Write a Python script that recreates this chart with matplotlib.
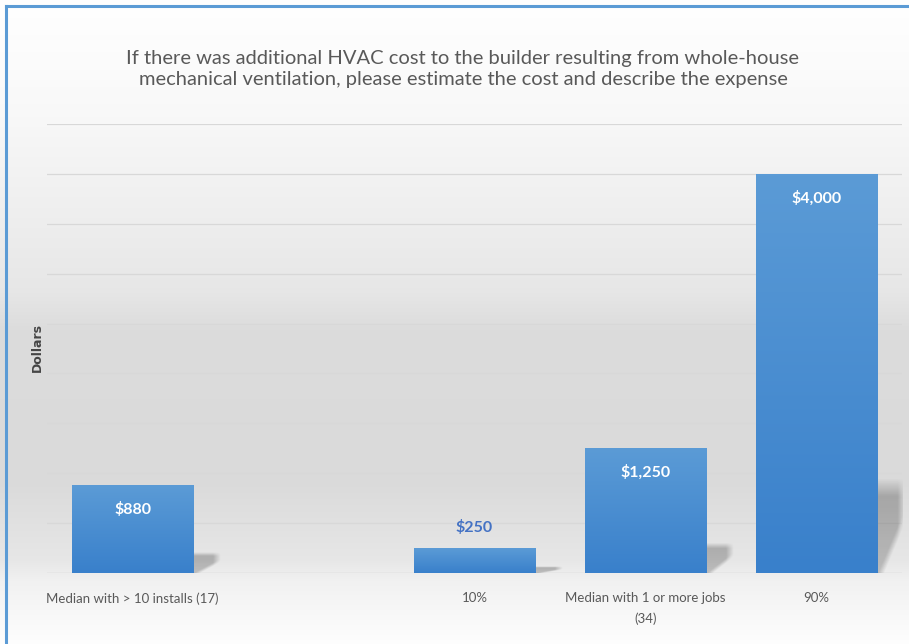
import matplotlib.pyplot as plt
import numpy as np
from matplotlib.colors import LinearSegmentedColormap
from matplotlib.lines import Line2D

plt.rcParams['font.family'] = ['Lato', 'DejaVu Sans']

# survey answers, in dollars ("" slot is an empty category in the sheet)
categories = ["Median with > 10 installs (17)", "", "10%",
              "Median with 1 or more jobs\n(34)", "90%"]
costs = [880, None, 250, 1250, 4000]
cost_labels = ["$880", "", "$250", "$1,250", "$4,000"]

TITLE = ("If there was additional HVAC cost to the builder resulting from whole-house\n"
         "mechanical ventilation, please estimate the cost and describe the expense")

W, H = 909, 644
fig = plt.figure(figsize=(W / 100, H / 100), dpi=100)

# ── page background: soft vertical gray gradient ───────────────────────────
bg = fig.add_axes([0, 0, 1, 1], zorder=-10)
bg.set_axis_off()
rows = np.arange(H)
stops_y = [0, 110, 290, 330, 480, 560, 580, 643]
stops_v = [1.0, 0.975, 0.905, 0.862, 0.855, 0.905, 0.945, 0.995]
shade = np.interp(rows, stops_y, stops_v)
img = np.repeat(shade[:, None], 4, axis=1)
bg.imshow(np.dstack([img, img, img]), extent=[0, 1, 0, 1], aspect="auto",
          origin="upper")
bg.set_xlim(0, 1)
bg.set_ylim(0, 1)

# blue frame along the top and left edges
fig.add_artist(Line2D([6 / W, 1], [1 - 6 / H, 1 - 6 / H], color="#5b9bd5", lw=2.2))
fig.add_artist(Line2D([6 / W, 6 / W], [0, 1 - 6 / H], color="#5b9bd5", lw=2.2))

# ── plot area ─────────────────────────────────────────────────────────────
ax = fig.add_axes([47 / W, 1 - 573 / H, (902 - 47) / W, (573 - 124) / H])
ax.patch.set_alpha(0)
for s in ax.spines.values():
    s.set_visible(False)
ax.set_yticks(np.arange(500, 4501, 500))
ax.set_yticklabels([])
ax.tick_params(axis="y", length=0)
ax.grid(axis="y", color="#d8d8d8", lw=0.9)
ax.set_axisbelow(True)
ax.axhline(0, color="#d0d0d0", lw=1.0, zorder=1)

x = np.arange(len(categories))
width = 0.71
vals = [v if v is not None else 0 for v in costs]

bar_cmap = LinearSegmentedColormap.from_list("barblue", ["#3980cb", "#5b9bd6"])

# soft shadow mask: u runs across (0..1), t runs up (0..1)
u, t = np.meshgrid(np.linspace(0, 1, 60), np.linspace(0, 1, 120))
def smooth(d, k):
    return np.clip(d / k, 0, 1)
shadow_alpha = (smooth(0.95 - t, 0.18)            # soft top
                * smooth(t - (0.75 * u - 0.25), 0.15)   # diagonal cut bottom right
                * smooth(1.0 - u, 0.25)          # fade at far edge
                * (0.20 + 0.06 * t))
shadow_rgba = np.zeros(shadow_alpha.shape + (4,))
shadow_rgba[..., 3] = shadow_alpha

bars = ax.bar(x, vals, width, color="none", edgecolor="none", zorder=3)
for xi, bar, v in zip(x, bars, costs):
    if v is None:
        continue
    x0, x1 = bar.get_x(), bar.get_x() + bar.get_width()
    # drop shadow behind the right side of the bar
    sh = 0.25 * v
    ax.imshow(shadow_rgba, extent=[x1 - 0.02, x1 + 0.16, 0, sh], aspect="auto",
              origin="lower", zorder=2, interpolation="bilinear")
    # vertical gradient fill of the bar
    grad = np.linspace(0, 1, 128)[:, None]
    gimg = ax.imshow(grad, extent=[x0, x1, 0, v], aspect="auto", origin="lower",
                     cmap=bar_cmap, zorder=3, interpolation="bilinear")
    gimg.set_clip_path(bar)

ax.set_xlim(-0.5, len(categories) - 0.5)
ax.set_ylim(0, 4500)

# value labels: inside the bar top, or above it when the bar is too short
for xi, v, lab in zip(x, costs, cost_labels):
    if v is None:
        continue
    if v < 500:
        ax.annotate(lab, (xi, v), xytext=(0, 15), textcoords="offset points",
                    ha="center", va="center", fontsize=11.5, fontweight="bold",
                    color="#4472c4", zorder=5)
    else:
        ax.annotate(lab, (xi, v), xytext=(0, -17.5), textcoords="offset points",
                    ha="center", va="center", fontsize=11.5, fontweight="bold",
                    color="white", zorder=5)

ax.set_xticks(x)
ax.set_xticklabels(categories, fontsize=9.5, color="#595959", linespacing=1.8)
ax.tick_params(axis="x", length=0, pad=14)

fig.text(37 / W, 1 - 348 / H, "Dollars", rotation=90, ha="center", va="center",
         fontsize=9, fontweight="bold", color="#454545", family="DejaVu Sans")

fig.text(463 / W, 1 - 69 / H, TITLE, ha="center", va="center", fontsize=14.5,
         color="#595959", linespacing=1.35)

fig.savefig("out.png", dpi=100)
